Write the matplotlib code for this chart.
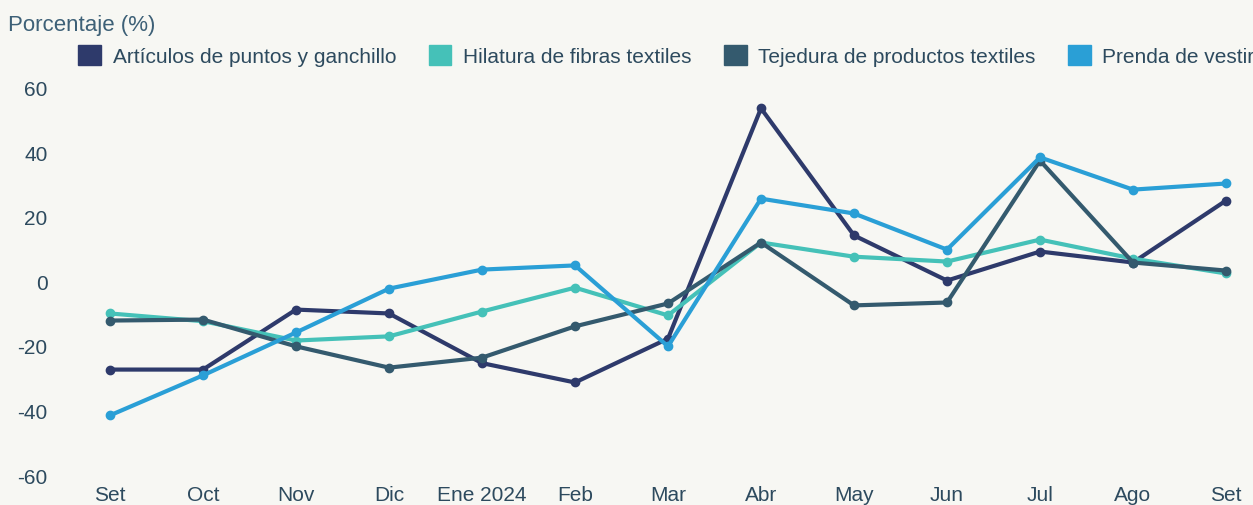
import matplotlib.pyplot as plt
from matplotlib.patches import Patch

plt.rcParams["axes.unicode_minus"] = False
plt.rcParams["font.family"] = ["Liberation Sans", "DejaVu Sans"]

meses = ["Set", "Oct", "Nov", "Dic", "Ene 2024", "Feb", "Mar", "Abr",
         "May", "Jun", "Jul", "Ago", "Set"]

articulos = [-27, -27, -8.4, -9.6, -25, -31, -17.4, 54, 14.6, 0.6, 9.6, 6.2, 25.4]
hilatura = [-9.6, -12, -18, -16.7, -9, -1.6, -10.2, 12.4, 8, 6.5, 13.3, 7.4, 2.8]
tejedura = [-11.8, -11.5, -19.8, -26.4, -23.3, -13.6, -6.5, 12.4, -7.1, -6.2, 37.8, 6.2, 3.7]
prenda = [-41.2, -28.8, -15.5, -1.9, 4, 5.3, -19.8, 26, 21.4, 10.2, 38.8, 28.8, 30.7]

series = [
    ("Artículos de puntos y ganchillo", articulos, "#2e3a6b"),
    ("Hilatura de fibras textiles", hilatura, "#45c1b8"),
    ("Tejedura de productos textiles", tejedura, "#345a6e"),
    ("Prenda de vestir", prenda, "#2a9fd6"),
]

bg = "#f7f7f3"
txt = "#2d4a5e"

fig = plt.figure(figsize=(12.53, 5.05), dpi=100, facecolor=bg)
ax = fig.add_axes([110 / 1253, 29 / 505, 1116 / 1253, 387 / 505], facecolor=bg)

x = list(range(len(meses)))
for name, vals, col in series:
    ax.plot(x, vals, color=col, lw=3, marker="o", ms=6, clip_on=False,
            solid_joinstyle="round")

ax.set_xlim(0, len(meses) - 1)
ax.set_ylim(-60, 60)
ax.set_yticks([-60, -40, -20, 0, 20, 40, 60])
ax.set_xticks(x)
ax.set_xticklabels(meses)
for s in ax.spines.values():
    s.set_visible(False)
ax.tick_params(axis="both", length=0, labelsize=15, labelcolor=txt)
ax.tick_params(axis="y", pad=45)
ax.tick_params(axis="x", pad=7)

fig.text(8 / 1253, 1 - 25 / 505, "Porcentaje (%)", fontsize=16, color="#3d6077",
         va="center", ha="left")

# legend runs up to the right edge, like the original
handles = [Patch(facecolor=c, edgecolor=c, label=n) for n, _, c in series]
fig.legend(handles=handles, loc="center left", ncol=4,
           bbox_to_anchor=(70 / 1253, 1 - 56 / 505), frameon=False,
           prop={"size": 15}, labelcolor=txt,
           handlelength=1.1, handleheight=1.1, handletextpad=0.55,
           columnspacing=1.55, borderaxespad=0)

fig.savefig("out.png", dpi=100, facecolor=bg)
